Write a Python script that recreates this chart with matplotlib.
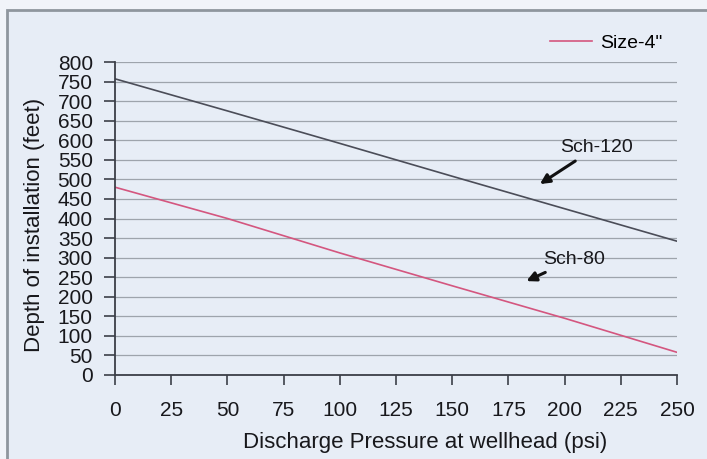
import matplotlib.pyplot as plt
from matplotlib.patches import Rectangle

# data
pressure = [0, 50, 100, 150, 200, 250]
sch120 = [757, 675, 592, 508, 425, 342]
sch80 = [480, 400, 312, 228, 145, 58]
xticks = list(range(0, 251, 25))
yticks = list(range(0, 801, 50))

plt.rcParams['font.family'] = ['Liberation Sans', 'DejaVu Sans']

fig = plt.figure(figsize=(7.07, 4.59), dpi=100)
fig.patch.set_facecolor('#f1f4f9')
# inner panel with a grey frame
fig.add_artist(Rectangle((7 / 707, -0.05), 1.0, 1 - 10 / 459 + 0.05, transform=fig.transFigure,
                         facecolor='#e7edf6', edgecolor='#8f969e', linewidth=2, zorder=0))

ax = fig.add_axes([115 / 707, 1 - 375 / 459, (677 - 115) / 707, (375 - 62) / 459])
ax.set_facecolor('none')

ax.plot(pressure, sch120, color='#4b4d58', linewidth=1.2)
ax.plot(pressure, sch80, color='#d4567f', linewidth=1.2, label='Size-4"')

ax.set_xlim(0, 250)
ax.set_ylim(0, 800)
ax.set_xticks(xticks)
ax.set_yticks(yticks)
ax.yaxis.grid(True, color='#9ea4ac', linewidth=0.9)
ax.set_axisbelow(True)
for s in ['top', 'right']:
    ax.spines[s].set_visible(False)
for s in ['left', 'bottom']:
    ax.spines[s].set_color('#3c3f48')
    ax.spines[s].set_linewidth(1.3)
txt = '#18181c'
ax.tick_params(axis='y', length=8, width=1.2, color='#3c3f48', pad=8, labelsize=15, labelcolor=txt)
ax.tick_params(axis='x', length=7, width=1.2, color='#3c3f48', pad=12, labelsize=15, labelcolor=txt)

ax.set_xlabel('Discharge Pressure at wellhead (psi)', fontsize=16, color=txt)
ax.xaxis.set_label_coords(0.552, -0.182)
ax.set_ylabel('Depth of installation (feet)', fontsize=16, color=txt)
ax.yaxis.set_label_coords(-0.125, 0.48)

ax.annotate('Sch-120', xy=(189, 488), xytext=(214, 570), fontsize=14, ha='center',
            color=txt, annotation_clip=False,
            arrowprops=dict(arrowstyle='-|>', color='#111111', lw=2.2, mutation_scale=14,
                            shrinkA=3, shrinkB=0))
ax.annotate('Sch-80', xy=(183, 240), xytext=(204, 284), fontsize=14, ha='center',
            color=txt, annotation_clip=False,
            arrowprops=dict(arrowstyle='-|>', color='#111111', lw=2.2, mutation_scale=14,
                            shrinkA=3, shrinkB=0))

ax.legend(loc='upper right', bbox_to_anchor=(680 / 707, 1 - 17 / 459), bbox_transform=fig.transFigure,
          frameon=False, fontsize=14, handlelength=2.2, handletextpad=0.4)

fig.savefig('out.png', dpi=100, facecolor=fig.get_facecolor())
